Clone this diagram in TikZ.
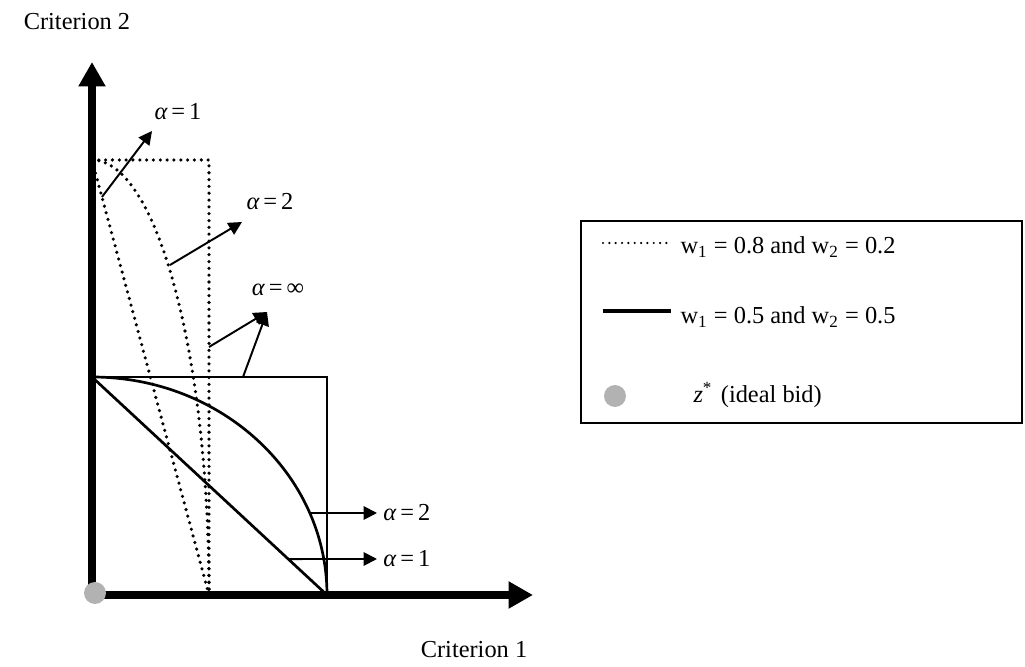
\documentclass[tikz,border=0pt]{standalone}
\usepackage{fontspec}
\setmainfont{Liberation Serif}
\usetikzlibrary{arrows.meta,positioning,calc}

\tikzset{
  axis/.style={line width=3.5pt,-{Triangle[length=10pt,width=10.5pt]}},
  frontier/.style={line width=1.1pt},
  dotfrontier/.style={line width=1.45pt,line cap=round,dash pattern=on 0pt off 2.8pt},
  pointer/.style={line width=0.8pt,-{Triangle[length=5.5pt,width=5.5pt]}},
  ideal/.style={circle,fill=black!30,inner sep=0pt,minimum size=9pt},
  lbl/.style={inner sep=0pt}
}

\begin{document}
\begin{tikzpicture}[x=0.41pt,y=0.41pt]

		\useasboundingbox (0,0) rectangle (1025,666);

		\coordinate (O) at (92,71);
		\coordinate (X) at (533,71);
		\coordinate (Y) at (92,604);

		% solid frontier, w1 = w2 = 0.5
		\coordinate (S2) at (92,289);
		\coordinate (S1) at (327,71);
		\coordinate (SC) at (327,289);

		% dotted frontier, w1 = 0.8, w2 = 0.2
		\coordinate (D2) at (92,506);
		\coordinate (D1) at (209,71);
		\coordinate (DC) at (209,506);

		\draw[frontier] (S2)--(SC)--(S1);
		\draw[frontier] (S2)--(S1);
		\draw[frontier] (S2) arc[start angle=90,end angle=0,x radius=235,y radius=218];

		\draw[dotfrontier] (D2)--(DC)--(D1);
		\draw[dotfrontier] (D2)--(D1);
		\draw[dotfrontier] (D2) arc[start angle=90,end angle=0,x radius=117,y radius=435];

		\draw[axis] ($(O)+(-4,0)$)--(X);
		\draw[axis] ($(O)+(0,-4)$)--(Y);

		\node[ideal] (z) at (95,73) {};

		\node (c2) at (77,644) {Criterion 2};
		\node (c1) at (474,16) {Criterion 1};

		% labels of the curves
		\node[lbl] (a1top) at (178,554) {{\itshape α}\,=\,1};
		\node[lbl] (a2top) at (270,464) {{\itshape α}\,=\,2};
		\node[lbl] (ainf) at (278,376) {{\itshape α}\,=\,∞};
		\node[lbl,anchor=west] (a2bot) at (383,153) {{\itshape α}\,=\,2};
		\node[lbl,anchor=west] (a1bot) at (383,107) {{\itshape α}\,=\,1};

		\coordinate (p1) at ($(D2)!0.085!(D1)$);
		\coordinate (t1) at (152,535);
		\coordinate (p2) at (170,401);
		\coordinate (t2) at (242,444);
		\coordinate (pi1) at (209,319);
		\coordinate (pi2) at (243,289);
		\coordinate (ti) at (267,354);
		\coordinate (q2) at (311,153);
		\coordinate (q1) at ($(S2)!0.835!(S1)$);

		\draw[pointer] (p1)--(t1);
		\draw[pointer] (p2)--(t2);
		\draw[pointer] (pi1)--(ti);
		\draw[pointer] (pi2)--(ti);
		\draw[pointer] (q2)--(a2bot.west-|377,0);
		\draw[pointer] (q1)--(a1bot.west-|377,0);

		% legend
		\draw[line width=0.8pt] (581,243) rectangle (1022,445);

		\coordinate (l1a) at (603,423);
		\coordinate (l1b) at (667,423);
		\draw[line width=1pt,line cap=round,dash pattern=on 0pt off 2.6pt] (l1a)--(l1b);
		\node[lbl,anchor=west] (leg1) at (680,419) {w\textsubscript{1} = 0.8 and w\textsubscript{2} = 0.2};

		\coordinate (l2a) at (603,355);
		\coordinate (l2b) at (671,355);
		\draw[line width=1.5pt] (l2a)--(l2b);
		\node[lbl,anchor=west] (leg2) at (680,349) {w\textsubscript{1} = 0.5 and w\textsubscript{2} = 0.5};

		\node[ideal] (zleg) at (615,270) {};
		\node[lbl,anchor=west] (leg3) at (693,271) {\textit{z}\textsuperscript{*}\,\,(ideal bid)};

	\end{tikzpicture}
\end{document}
